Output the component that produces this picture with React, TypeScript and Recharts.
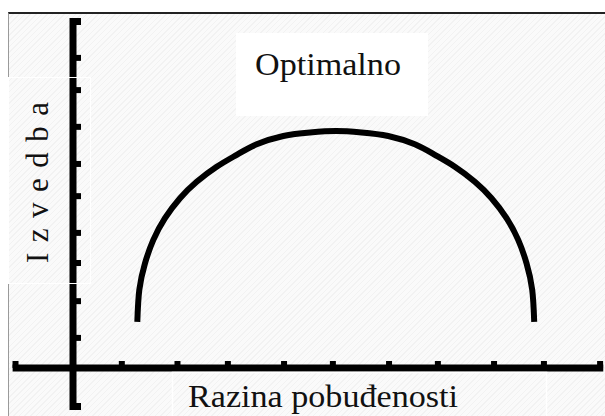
import { LineChart, Line, XAxis, YAxis, ReferenceLine } from "recharts";

const arousal = [1.225, 1.263, 1.371, 1.53, 1.752, 2.038, 2.356, 2.737, 3.118, 3.499, 4.006, 4.514, 5.01, 5.496, 6.004, 6.511, 6.892, 7.273, 7.654, 7.972, 8.258, 8.48, 8.639, 8.747, 8.785];
const performance = [1.32, 2.23, 2.99, 3.66, 4.28, 4.85, 5.32, 5.75, 6.09, 6.39, 6.63, 6.73, 6.77, 6.73, 6.63, 6.39, 6.09, 5.75, 5.32, 4.85, 4.28, 3.66, 2.99, 2.23, 1.32];

const xTicks = [0.93, 1.99, 2.95, 4.02, 4.95, 6.02, 6.95, 8.02, 8.97];
const yTicks = [0.86, 1.91, 3.0, 3.86, 4.91, 5.83, 6.89, 7.94, 8.86];

const xEnds = [-1.15, 10.1];
const yEnds = [-1.2, 10.0];
const xCaps = [-1.095, 10.04];
const yCaps = [-1.1, 9.9];

const rows = arousal.map((x, i) => ({ x, y: performance[i] }));

const serif = '"Liberation Serif", "DejaVu Serif", serif';
const labelStyle = { fontFamily: serif, fontSize: 31 };

export default function App() {
  return (
    <div style={{ position: "fixed", left: 0, top: 0, width: 605, height: 416, background: "#fff", overflow: "hidden" }}>
      <div
        style={{
          position: "absolute",
          left: 8,
          top: 12,
          width: 597,
          height: 404,
          borderTop: "2px solid #222",
          borderLeft: "1px solid #9a9a9a",
          background: "repeating-linear-gradient(-45deg, #f2f2f2 0px, #f2f2f2 1px, #fafafa 1px, #fafafa 4px)",
        }}
      />
      <div style={{ position: "absolute", left: 0, top: 0 }}>
        <LineChart width={605} height={416} data={rows} margin={{ top: 11, right: 1.75, bottom: 2.5, left: 10 }}>
          <XAxis type="number" dataKey="x" domain={[-1.2, 10.1]} allowDataOverflow hide />
          <YAxis type="number" domain={[-1.3, 10.2]} allowDataOverflow hide />
          <ReferenceLine segment={[{ x: 0, y: yEnds[0] }, { x: 0, y: yEnds[1] }]} stroke="#000" strokeWidth={7} ifOverflow="visible" />
          <ReferenceLine segment={[{ x: xEnds[0], y: 0 }, { x: xEnds[1], y: 0 }]} stroke="#000" strokeWidth={7} ifOverflow="visible" />
          {yCaps.map((v) => (
            <ReferenceLine key={`yc${v}`} segment={[{ x: 0, y: v }, { x: 0.152, y: v }]} stroke="#000" strokeWidth={7} ifOverflow="visible" />
          ))}
          {xCaps.map((v) => (
            <ReferenceLine key={`xc${v}`} segment={[{ x: v, y: 0 }, { x: v, y: 0.2 }]} stroke="#000" strokeWidth={6} ifOverflow="visible" />
          ))}
          {xTicks.map((v) => (
            <ReferenceLine key={`xt${v}`} segment={[{ x: v, y: 0 }, { x: v, y: 0.2 }]} stroke="#000" strokeWidth={6} ifOverflow="visible" />
          ))}
          {yTicks.map((v) => (
            <ReferenceLine key={`yt${v}`} segment={[{ x: 0, y: v }, { x: 0.152, y: v }]} stroke="#000" strokeWidth={6} ifOverflow="visible" />
          ))}
          <Line
            type="natural"
            dataKey="y"
            stroke="#000"
            strokeWidth={6}
            dot={false}
            activeDot={false}
            isAnimationActive={false}
          />
        </LineChart>
      </div>
      <svg width={605} height={416} style={{ position: "absolute", left: 0, top: 0 }}>
        <rect x={8.5} y={77.5} width={82} height={206} fill="none" stroke="#fff" strokeWidth={1} />
        <rect x={172.5} y={372.5} width={374} height={60} fill="none" stroke="#fff" strokeWidth={1.5} />
        <rect x={236} y={33} width={192} height={83} fill="#fff" />
        <text x={255} y={75} textLength={146} lengthAdjust="spacingAndGlyphs" style={labelStyle} fill="#111">
          Optimalno
        </text>
        <text x={188} y={407} textLength={270} lengthAdjust="spacingAndGlyphs" style={labelStyle} fill="#111">
          Razina pobuđenosti
        </text>
        <text x={48} y={263} transform="rotate(-90 48 263)" textLength={161} lengthAdjust="spacing" style={labelStyle} fill="#111">
          Izvedba
        </text>
      </svg>
    </div>
  );
}
